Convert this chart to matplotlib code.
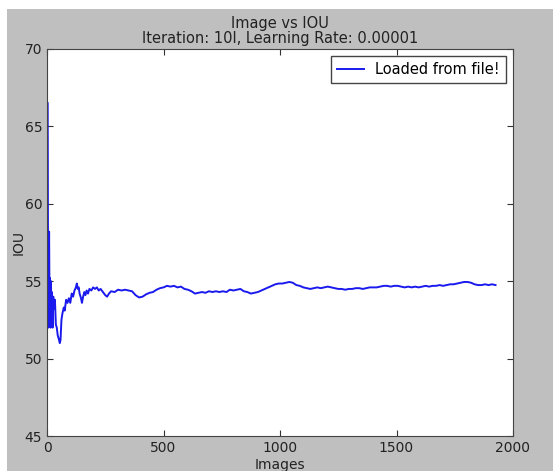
import matplotlib
matplotlib.use("Agg")
import matplotlib.pyplot as plt
from matplotlib.patches import Rectangle

title = "Image vs IOU\nIteration: 10l, Learning Rate: 0.00001"
x_label = "Images"
y_label = "IOU"
legend_label = "Loaded from file!"

images = [3, 5, 9, 11, 13, 15, 17, 19, 21, 24, 27, 30, 34, 38, 42, 46, 50, 55, 58, 62,
          66, 72, 76, 82, 88, 94, 100, 106, 112, 118, 124, 128, 132, 136, 140, 146, 150,
          155, 160, 165, 170, 176, 182, 190, 198, 206, 214, 222, 230, 240, 250, 258, 266,
          275, 290, 305, 320, 335, 350, 365, 380, 395, 410, 425, 440, 455, 470, 485, 500,
          515, 530, 545, 560, 575, 590, 605, 620, 635, 650, 665, 680, 695, 710, 725, 740,
          755, 770, 785, 800, 815, 830, 845, 860, 875, 890, 905, 920, 935, 950, 965, 980,
          995, 1010, 1025, 1040, 1055, 1070, 1085, 1100, 1115, 1130, 1145, 1160, 1175,
          1190, 1205, 1220, 1235, 1250, 1265, 1280, 1295, 1310, 1325, 1340, 1355, 1370,
          1385, 1400, 1415, 1430, 1445, 1460, 1475, 1490, 1505, 1520, 1535, 1550, 1565,
          1580, 1595, 1610, 1625, 1640, 1655, 1670, 1685, 1700, 1715, 1730, 1745, 1760,
          1775, 1790, 1805, 1820, 1835, 1850, 1865, 1880, 1895, 1910, 1925]
iou = [66.5, 52.0, 58.2, 53.0, 55.2, 52.0, 55.0, 52.2, 54.3, 52.0, 54.0, 53.2, 53.8, 52.2,
       52.0, 51.5, 51.3, 51.0, 51.2, 52.5, 52.9, 53.3, 53.1, 53.8, 53.6, 53.9, 53.6, 54.2,
       54.0, 54.4, 54.6, 54.85, 54.5, 54.6, 54.2, 53.9, 53.6, 54.0, 54.3, 54.1, 54.4, 54.2,
       54.5, 54.4, 54.6, 54.5, 54.6, 54.4, 54.5, 54.3, 54.1, 54.0, 54.2, 54.35, 54.3, 54.45,
       54.4, 54.45, 54.4, 54.35, 54.1, 53.95, 54.0, 54.15, 54.25, 54.3, 54.45, 54.55, 54.6,
       54.7, 54.65, 54.7, 54.6, 54.65, 54.5, 54.45, 54.35, 54.2, 54.25, 54.3, 54.25, 54.35,
       54.3, 54.35, 54.3, 54.35, 54.3, 54.45, 54.4, 54.45, 54.5, 54.35, 54.3, 54.2, 54.25,
       54.3, 54.4, 54.5, 54.6, 54.7, 54.8, 54.85, 54.85, 54.9, 54.95, 54.9, 54.75, 54.7,
       54.6, 54.55, 54.5, 54.55, 54.6, 54.55, 54.6, 54.65, 54.6, 54.55, 54.5, 54.5, 54.45,
       54.5, 54.5, 54.55, 54.55, 54.5, 54.55, 54.6, 54.6, 54.6, 54.65, 54.7, 54.7, 54.65,
       54.7, 54.7, 54.65, 54.6, 54.65, 54.6, 54.65, 54.6, 54.65, 54.7, 54.65, 54.7, 54.7,
       54.75, 54.7, 54.75, 54.8, 54.8, 54.85, 54.9, 54.95, 54.95, 54.9, 54.8, 54.75, 54.75,
       54.8, 54.75, 54.8, 54.75]

x_ticks = [0, 500, 1000, 1500, 2000]
y_ticks = [45, 50, 55, 60, 65, 70]

W, H = 553, 471
fig = plt.figure(figsize=(W / 100, H / 100), dpi=100, facecolor="white")
fig.patches.append(Rectangle((7 / W, 0), 1 - 7 / W, 1 - 9 / H, transform=fig.transFigure,
                             facecolor="#bfbfbf", edgecolor="none", zorder=-10))

ax = fig.add_axes([47 / W, 35 / H, (513 - 47) / W, (436 - 49) / H])
ax.plot(images, iou, color="#1a1aee", lw=1.4, label=legend_label)
ax.set_xlim(0, 2000)
ax.set_ylim(45, 70)
ax.set_xticks(x_ticks)
ax.set_yticks(y_ticks)
ax.tick_params(direction="in", top=True, right=True, length=4, labelsize=10,
               colors="#333333", labelcolor="#222222")
for s in ax.spines.values():
    s.set_color("#444444")
ax.set_xlabel(x_label, fontsize=10, color="#222222", labelpad=2)
ax.set_ylabel(y_label, fontsize=10, color="#222222", labelpad=-1)
ax.set_title(title, fontsize=10.5, color="#222222", linespacing=1.0, pad=4)
leg = ax.legend(loc="upper right", fancybox=False, framealpha=1, edgecolor="#444444",
                fontsize=10.5, handlelength=1.8, borderaxespad=0.5)
leg.get_frame().set_linewidth(1.0)

fig.savefig("out.png", dpi=100, facecolor=fig.get_facecolor())
